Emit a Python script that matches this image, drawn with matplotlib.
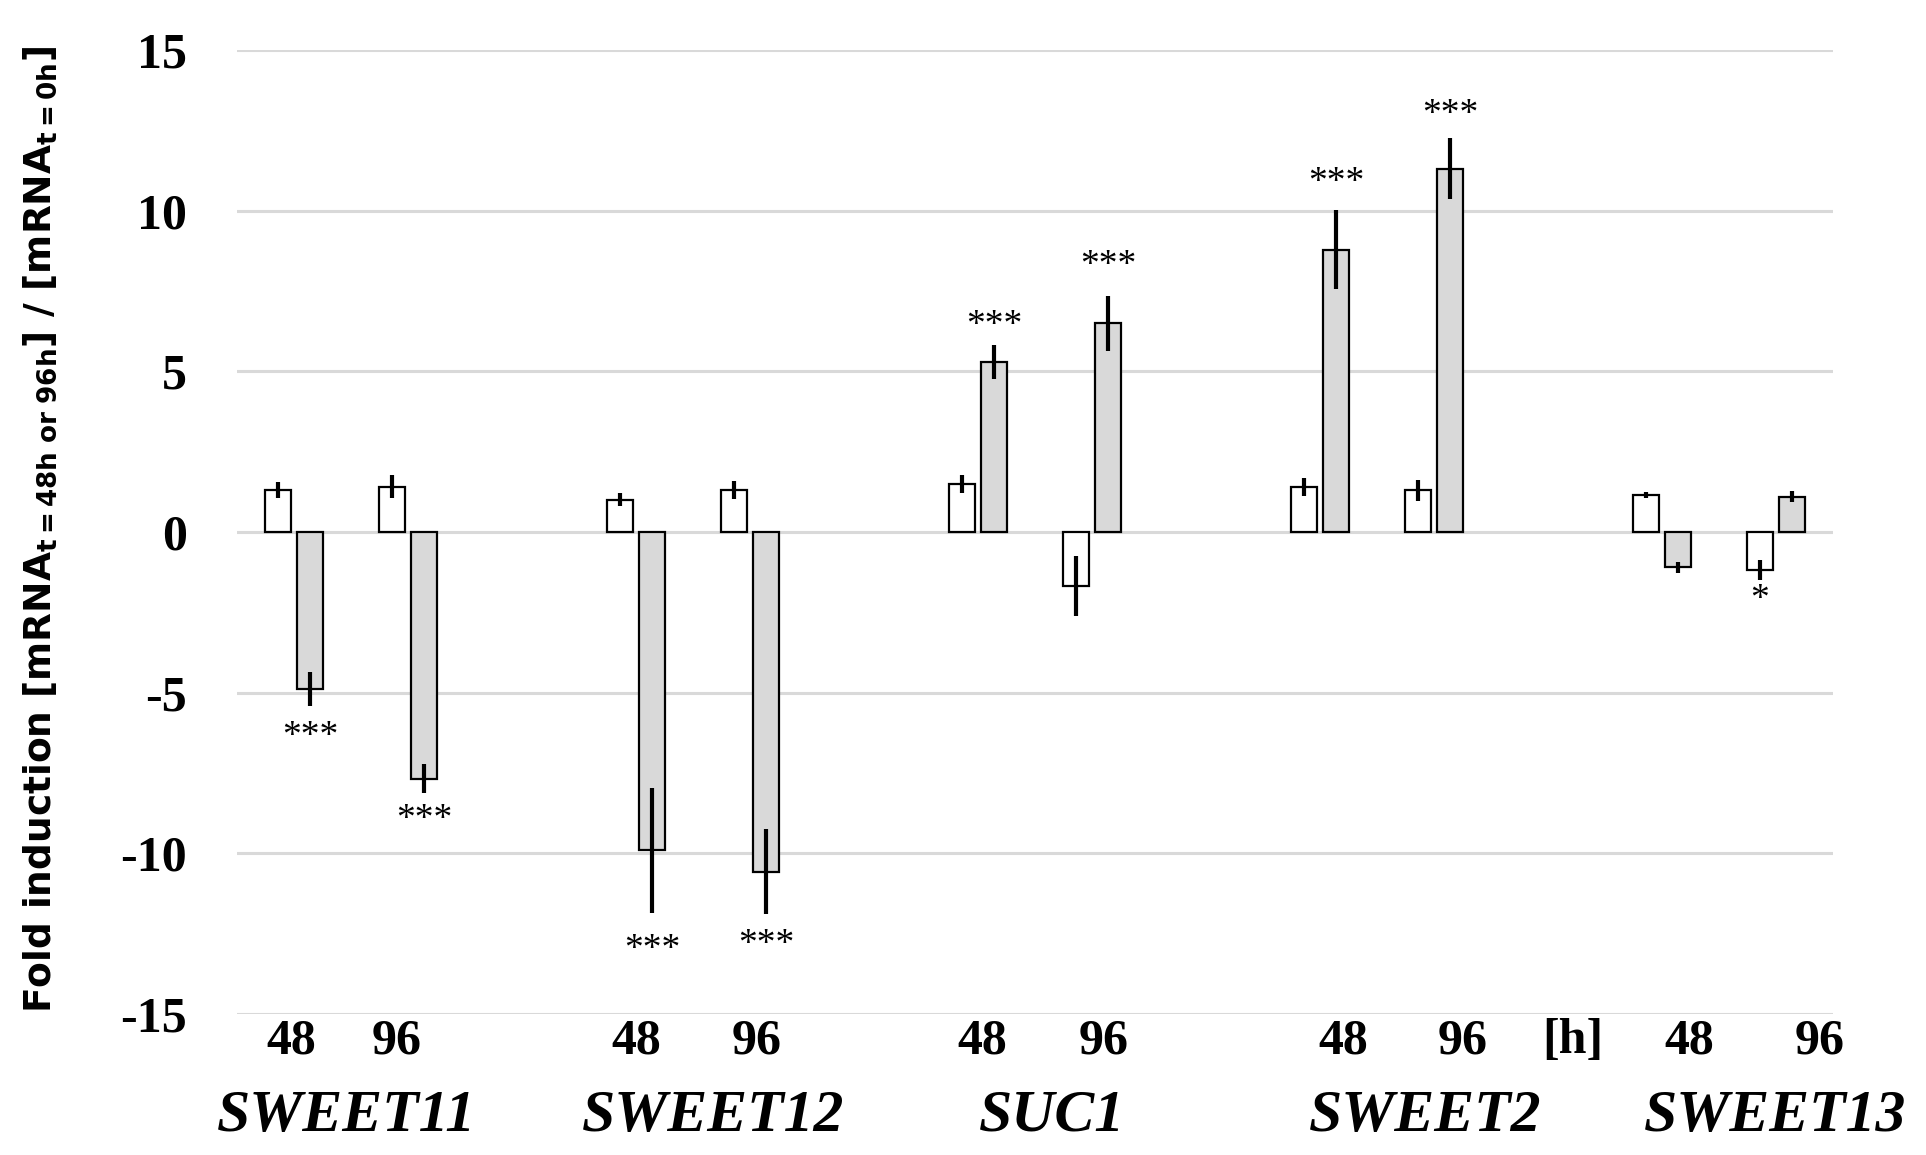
import numpy as np
import matplotlib
matplotlib.use("Agg")
import matplotlib.pyplot as plt

plt.rcParams['mathtext.fontset'] = 'custom'
plt.rcParams['mathtext.rm'] = 'DejaVu Sans:bold'

# data
genes = ["SWEET11", "SWEET12", "SUC1", "SWEET2", "SWEET13"]
times = ["48", "96"]
# one value per gene/time, order: gene1-48, gene1-96, gene2-48, ...
white_vals = [1.30, 1.41, 1.01, 1.30, 1.50, -1.69, 1.39, 1.30, 1.15, -1.18]
white_err = [0.25, 0.36, 0.20, 0.28, 0.28, 0.93, 0.28, 0.33, 0.10, 0.32]
grey_vals = [-4.88, -7.68, -9.90, -10.57, 5.29, 6.49, 8.79, 11.30, -1.10, 1.10]
grey_err = [0.54, 0.45, 1.95, 1.32, 0.53, 0.87, 1.22, 0.95, 0.17, 0.18]
# significance marks: (index, series, label, y)
stars = [(0, "grey", "***", -6.38), (1, "grey", "***", -8.94),
         (2, "grey", "***", -13.0), (3, "grey", "***", -12.85),
         (4, "grey", "***", 6.43), (5, "grey", "***", 8.3),
         (6, "grey", "***", 10.86), (7, "grey", "***", 13.0),
         (9, "white", "*", -2.1)]

# category slots: two per gene plus an empty one between genes
cat = np.array([g * 3 + t for g in range(len(genes)) for t in range(2)])
w = 0.228
off = 0.14

fig = plt.figure(figsize=(19.26, 11.55), dpi=100)
ax = fig.add_axes([0.123, 0.122, 0.9517 - 0.123, 0.9567 - 0.122])

ax.bar(cat - off, white_vals, w, color="white", edgecolor="black", linewidth=1.6, zorder=3)
ax.bar(cat + off, grey_vals, w, color="#d9d9d9", edgecolor="black", linewidth=1.6, zorder=3)
ax.errorbar(cat - off, white_vals, yerr=white_err, fmt="none", ecolor="black",
            elinewidth=3.0, capsize=0, zorder=4)
ax.errorbar(cat + off, grey_vals, yerr=grey_err, fmt="none", ecolor="black",
            elinewidth=3.0, capsize=0, zorder=4)

for i, s, lab, y in stars:
    x = cat[i] + (off if s == "grey" else -off)
    ax.text(x, y, lab, ha="center", va="center", fontsize=27,
            family="Liberation Serif", zorder=5)

ax.set_xlim(-0.5, 13.5)
ax.set_ylim(-15, 15)
ax.set_yticks(np.arange(-15, 16, 5))
ax.set_yticklabels([str(v) for v in range(-15, 16, 5)], fontsize=36,
                   family="Liberation Serif", fontweight="bold")
ax.tick_params(axis="y", length=0, pad=36)
ax.set_xticks([])
ax.yaxis.grid(True, color="#d9d9d9", linewidth=2.2, zorder=0)
ax.set_axisbelow(True)
for sp in ax.spines.values():
    sp.set_visible(False)

# time labels under the axis
time_x = [-0.02, 0.90, 3.0, 4.06, 6.04, 7.1, 9.2, 10.25, 12.24, 13.38]
for k, x in enumerate(time_x):
    ax.text(x, -15.84, times[k % 2], ha="center", va="center", fontsize=36,
            family="Liberation Serif", fontweight="bold", clip_on=False)
ax.text(11.22, -15.84, "[h]", ha="center", va="center", fontsize=36,
        family="Liberation Serif", fontweight="bold", clip_on=False)

gene_x = [0.46, 3.68, 6.65, 9.92, 12.99]
for g, x in zip(genes, gene_x):
    ax.text(x, -18.2, g, ha="center", va="center", fontsize=43,
            family="Liberation Serif", fontweight="bold", style="italic", clip_on=False)

fig.text(0.021, 0.542,
         r"Fold induction [mRNA$_{\mathrm{t=48h\ or\ 96h}}$] / [mRNA$_{\mathrm{t=0h}}$]",
         rotation=90, ha="center", va="center", fontsize=27, fontweight="bold",
         family="DejaVu Sans")

fig.savefig("out.png", dpi=100)
